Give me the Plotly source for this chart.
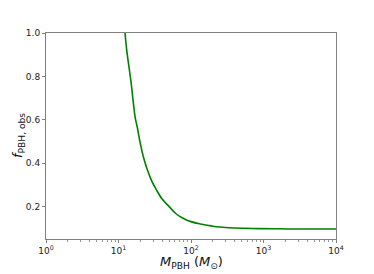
import plotly.graph_objects as go

m_pbh = [12.3, 13.0, 14.0, 15.0, 16.0, 17.0, 18.3, 20.0, 22.0, 25.0, 29.0,
         33.0, 40.0, 50.0, 60.0, 70.0, 85.0, 100.0, 130.0, 170.0, 200.0,
         250.0, 300.0, 400.0, 600.0, 870.0, 1500.0, 3000.0, 6000.0, 10000.0]
f_obs = [1.0, 0.92, 0.84, 0.765, 0.68, 0.61, 0.56, 0.49, 0.43, 0.37, 0.315,
         0.28, 0.235, 0.2, 0.172, 0.155, 0.14, 0.131, 0.121, 0.114, 0.11,
         0.106, 0.104, 0.102, 0.1, 0.099, 0.098, 0.097, 0.097, 0.097]

x_ticks = [1, 10, 100, 1000, 10000]
x_labels = ['10<sup>0</sup>', '10<sup>1</sup>', '10<sup>2</sup>', '10<sup>3</sup>', '10<sup>4</sup>']
x_minor = [m * 10 ** d for d in range(4) for m in range(2, 10)]
y_ticks = [0.2, 0.4, 0.6, 0.8, 1.0]
y_labels = ['0.2', '0.4', '0.6', '0.8', '1.0']
x_title = '<i>M</i><sub>PBH</sub> (<i>M</i><sub>⊙</sub>)'
y_title = '<i>f</i><sub>PBH, obs</sub>'

fig = go.Figure()
fig.add_trace(go.Scatter(x=m_pbh, y=f_obs, mode='lines', line_shape='spline',
                         line=dict(color='#008000', width=1.6), showlegend=False))

axis_style = dict(showline=True, linecolor='#808080', linewidth=1, mirror=True,
                  ticks='outside', tickcolor='#808080', ticklen=3, showgrid=False,
                  zeroline=False, automargin=False,
                  tickfont=dict(family='DejaVu Sans', size=9, color='#222'))
title_font = dict(family='DejaVu Sans', size=13, color='#111')

# the page body adds an 8px margin, so the figure is sized to fit inside it
fig.update_layout(
    width=366, height=266,
    margin=dict(l=38, r=38, t=25, b=35),
    paper_bgcolor='white', plot_bgcolor='white',
    xaxis=dict(type='log', range=[0, 4], tickvals=x_ticks, ticktext=x_labels,
               minor=dict(tickvals=x_minor, ticks='outside', ticklen=1.5, tickcolor='#999'),
               **axis_style),
    yaxis=dict(range=[0.051, 1.0], tickvals=y_ticks, ticktext=y_labels, **axis_style),
)

# axis titles as annotations so they sit where the reference has them
fig.add_annotation(text=x_title, xref='paper', yref='paper', x=0.5, y=0,
                   yanchor='middle', yshift=-23, showarrow=False, font=title_font)
fig.add_annotation(text=y_title, xref='paper', yref='paper', x=0, y=0.5,
                   xanchor='center', xshift=-28, textangle=-90, showarrow=False,
                   font=title_font)

fig.write_html("out.html")
